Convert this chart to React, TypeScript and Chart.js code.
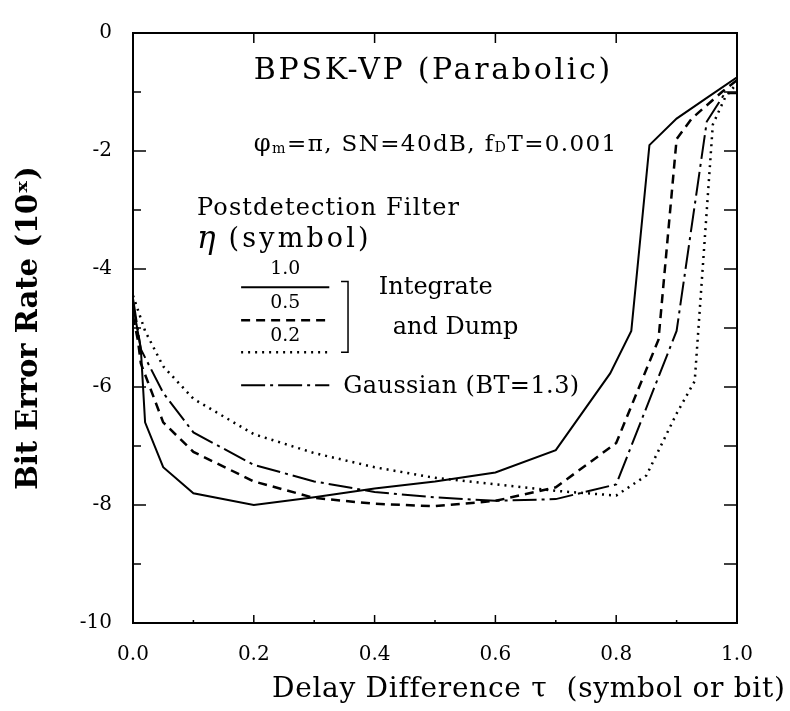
import React, { useEffect, useRef } from 'react';
import { Chart, registerables } from 'chart.js';

Chart.register(...registerables);

// Delay difference tau (symbol) and log10(BER) for each curve
const tauIdf10 = [0, 0.013, 0.02, 0.05, 0.1, 0.2, 0.3, 0.4, 0.5, 0.6, 0.7, 0.79, 0.825, 0.855, 0.9, 0.95, 1.0];
const berIdf10 = [-4.6, -5.36, -6.6, -7.36, -7.8, -8.0, -7.87, -7.72, -7.6, -7.45, -7.07, -5.77, -5.05, -1.9, -1.45, -1.1, -0.75];

const tauIdf05 = [0, 0.008, 0.013, 0.05, 0.1, 0.2, 0.3, 0.4, 0.5, 0.6, 0.7, 0.8, 0.87, 0.9, 0.925, 0.975, 1.0];
const berIdf05 = [-4.8, -5.2, -5.6, -6.6, -7.1, -7.6, -7.88, -7.98, -8.02, -7.93, -7.7, -6.95, -5.2, -1.8, -1.45, -1.0, -0.8];

const tauIdf02 = [0, 0.02, 0.05, 0.1, 0.2, 0.3, 0.4, 0.5, 0.6, 0.7, 0.8, 0.85, 0.9, 0.93, 0.96, 0.98, 1.0];
const berIdf02 = [-4.45, -5.05, -5.65, -6.2, -6.8, -7.12, -7.36, -7.54, -7.65, -7.76, -7.84, -7.5, -6.45, -5.9, -1.55, -1.1, -0.85];

const tauGauss = [0, 0.013, 0.05, 0.1, 0.2, 0.3, 0.4, 0.5, 0.6, 0.7, 0.8, 0.9, 0.95, 0.98, 1.0];
const berGauss = [-4.5, -5.36, -6.1, -6.77, -7.32, -7.6, -7.78, -7.87, -7.93, -7.9, -7.65, -5.05, -1.5, -1.02, -1.02];

const xTickValues = [0, 0.2, 0.4, 0.6, 0.8, 1.0];
const xMinorValues = [0.1, 0.3, 0.5, 0.7, 0.9];
const yTickValues = [0, -2, -4, -6, -8, -10];
const yMinorValues = [-1, -3, -5, -7, -9];

const titleText = 'BPSK-VP (Parabolic)';
const legendHeader = 'Postdetection Filter';
const legendUnit = '(symbol)';
const legendEtas = ['1.0', '0.5', '0.2'];
const legendGroup = ['Integrate', 'and Dump'];
const legendGauss = 'Gaussian (BT=1.3)';
const xTitle = 'Delay Difference \u03c4  (symbol or bit)';
const yTitle = 'Bit Error Rate (10\u02e3)';

const FONT = '"DejaVu Serif", serif';

const pts = (xs: number[], ys: number[]) => xs.map((x, i) => ({ x, y: ys[i] }));

// draw text with the font size chosen so that it spans the given width
function drawSized(ctx: CanvasRenderingContext2D, s: string, x: number, y: number, width: number, style = '', maxSize = 40) {
  ctx.font = `${style} 100px ${FONT}`;
  const w100 = ctx.measureText(s).width;
  const size = Math.min(maxSize, (100 * width) / w100);
  ctx.font = `${style} ${size}px ${FONT}`;
  const w = ctx.measureText(s).width;
  const sp = s.length > 1 ? (width - w) / (s.length - 1) : 0;
  (ctx as any).letterSpacing = `${Math.max(0, sp)}px`;
  ctx.textAlign = 'left';
  ctx.textBaseline = 'middle';
  ctx.fillText(s, x, y);
  (ctx as any).letterSpacing = '0px';
  return size;
}

function drawText(ctx: CanvasRenderingContext2D, s: string, x: number, y: number, size: number, align: CanvasTextAlign = 'left', style = '') {
  ctx.font = `${style} ${size}px ${FONT}`;
  (ctx as any).letterSpacing = '0px';
  ctx.textAlign = align;
  ctx.textBaseline = 'middle';
  ctx.fillText(s, x, y);
  return ctx.measureText(s).width;
}

const decorPlugin = {
  id: 'decor',
  afterDatasetsDraw(chart: any) {
    const ctx: CanvasRenderingContext2D = chart.ctx;
    const xs = chart.scales.x;
    const ys = chart.scales.y;
    const X = (v: number) => xs.getPixelForValue(v);
    const Y = (v: number) => ys.getPixelForValue(v);
    const ca = chart.chartArea;
    ctx.save();
    ctx.fillStyle = '#000';
    ctx.strokeStyle = '#000';
    // frame
    ctx.lineWidth = 2;
    ctx.setLineDash([]);
    ctx.strokeRect(ca.left, ca.top, ca.right - ca.left, ca.bottom - ca.top);
    // ticks (inward)
    ctx.lineWidth = 1.5;
    const seg = (x1: number, y1: number, x2: number, y2: number) => {
      ctx.beginPath();
      ctx.moveTo(x1, y1);
      ctx.lineTo(x2, y2);
      ctx.stroke();
    };
    yTickValues.forEach((v) => {
      seg(ca.left, Y(v), ca.left + 13, Y(v));
      seg(ca.right, Y(v), ca.right - 13, Y(v));
    });
    yMinorValues.forEach((v) => {
      seg(ca.left, Y(v), ca.left + 8, Y(v));
      seg(ca.right, Y(v), ca.right - 13, Y(v));
    });
    xTickValues.forEach((v) => {
      seg(X(v), ca.bottom, X(v), ca.bottom - 8);
      seg(X(v), ca.top, X(v), ca.top + 10);
    });
    xMinorValues.forEach((v) => {
      seg(X(v), ca.bottom, X(v), ca.bottom - 3);
    });

    // title
    drawSized(ctx, titleText, X(0.2), Y(-0.65), X(0.79) - X(0.2), '', 30);

    // subtitle with subscripts
    const parts: [string, number, number][] = [
      ['\u03c6', 1.05, 0],
      ['m', 0.62, 0.2],
      ['=\u03c0, SN=40dB, f', 1, 0],
      ['D', 0.62, 0.15],
      ['T=0.001', 1, 0],
    ];
    let base = 0;
    parts.forEach(([s, rel]) => {
      ctx.font = `${100 * rel}px ${FONT}`;
      base += ctx.measureText(s).width;
    });
    const target = X(0.8) - X(0.2);
    const fs = Math.min(23, (100 * target) / base);
    let used = 0;
    parts.forEach(([s, rel]) => {
      ctx.font = `${fs * rel}px ${FONT}`;
      used += ctx.measureText(s).width;
    });
    const nch = parts.reduce((a, [s]) => a + s.length, 0);
    const sp = Math.max(0, (target - used) / (nch - 1));
    let sx = X(0.2);
    parts.forEach(([s, rel, dy]) => {
      ctx.font = `${fs * rel}px ${FONT}`;
      (ctx as any).letterSpacing = `${sp}px`;
      ctx.textAlign = 'left';
      ctx.textBaseline = 'middle';
      ctx.fillText(s, sx, Y(-1.9) + dy * fs);
      (ctx as any).letterSpacing = '0px';
      sx += ctx.measureText(s).width + sp * s.length;
    });

    drawSized(ctx, legendHeader, X(0.106), Y(-2.98), 262, '', 24);
    const ew = drawText(ctx, '\u03b7', X(0.106), Y(-3.5), 31, 'left', 'italic');
    const ux = X(0.106) + ew + 13;
    drawSized(ctx, legendUnit, ux, Y(-3.5), X(0.39) - ux, '', 27);

    // legend lines
    const lx1 = X(0.179);
    const lx2 = X(0.325);
    const legendLine = (yv: number, dash: number[], w: number) => {
      ctx.lineWidth = w;
      ctx.setLineDash(dash);
      seg(lx1, Y(yv), lx2, Y(yv));
      ctx.setLineDash([]);
    };
    const lc = (lx1 + lx2) / 2;
    drawSized(ctx, legendEtas[0], lc - 15, Y(-4.01), 30, '', 19);
    legendLine(-4.31, [], 2);
    drawSized(ctx, legendEtas[1], lc - 15, Y(-4.57), 30, '', 19);
    legendLine(-4.87, [9, 6], 2.5);
    drawSized(ctx, legendEtas[2], lc - 15, Y(-5.13), 30, '', 19);
    legendLine(-5.41, [2, 5], 2.5);
    legendLine(-5.97, [24, 5, 3, 5], 2);

    // bracket
    ctx.lineWidth = 1.5;
    const bx = X(0.356);
    ctx.beginPath();
    ctx.moveTo(bx - 7, Y(-4.21));
    ctx.lineTo(bx, Y(-4.21));
    ctx.lineTo(bx, Y(-5.41));
    ctx.lineTo(bx - 7, Y(-5.41));
    ctx.stroke();

    drawText(ctx, legendGroup[0], X(0.407), Y(-4.32), 24);
    drawText(ctx, legendGroup[1], X(0.43), Y(-5.0), 24);
    drawSized(ctx, legendGauss, X(0.348), Y(-5.99), 236, '', 24);

    // x-axis title
    drawSized(ctx, xTitle, 272, 690, 512, '', 28);
    ctx.restore();
  },
};

export default function App() {
  const ref = useRef<HTMLCanvasElement | null>(null);
  useEffect(() => {
    if (!ref.current) return;
    const chart = new Chart(ref.current, {
      type: 'line',
      data: {
        datasets: [
          { label: '1.0', data: pts(tauIdf10, berIdf10), borderColor: '#000', borderWidth: 2, pointRadius: 0, fill: false, tension: 0 },
          { label: '0.5', data: pts(tauIdf05, berIdf05), borderColor: '#000', borderWidth: 2.5, borderDash: [9, 6], pointRadius: 0, fill: false, tension: 0 },
          { label: '0.2', data: pts(tauIdf02, berIdf02), borderColor: '#000', borderWidth: 2.5, borderDash: [2, 5], pointRadius: 0, fill: false, tension: 0 },
          { label: 'Gaussian', data: pts(tauGauss, berGauss), borderColor: '#000', borderWidth: 2, borderDash: [24, 5, 3, 5], pointRadius: 0, fill: false, tension: 0 },
        ],
      },
      options: {
        responsive: false,
        animation: false,
        layout: { padding: { left: 0, top: 17, right: 53, bottom: 0 } },
        plugins: { legend: { display: false }, tooltip: { enabled: false } },
        scales: {
          x: {
            type: 'linear',
            min: 0,
            max: 1,
            afterFit: (s: any) => { s.height = 88; },
            afterBuildTicks: (s: any) => { s.ticks = xTickValues.map((v) => ({ value: v })); },
            grid: { display: false, drawTicks: false },
            border: { display: false },
            ticks: { padding: 20, color: '#000', font: { family: FONT, size: 20 }, maxRotation: 0, autoSkip: false, callback: (v: any) => Number(v).toFixed(1) },
          },
          y: {
            type: 'linear',
            min: -10,
            max: 0,
            afterFit: (s: any) => { s.width = 133; },
            afterBuildTicks: (s: any) => { s.ticks = yTickValues.map((v) => ({ value: v })); },
            grid: { display: false, drawTicks: false },
            border: { display: false },
            ticks: { padding: 21, color: '#000', font: { family: FONT, size: 20 }, autoSkip: false, callback: (v: any) => String(v) },
            title: { display: true, text: yTitle, color: '#000', font: { family: FONT, size: 29, weight: 'bold' }, padding: { top: 12, bottom: 0 } },
          },
        },
      },
      plugins: [decorPlugin],
    });
    return () => chart.destroy();
  }, []);
  return (
    <div style={{ position: 'absolute', left: 0, top: 0, width: 790, height: 711, background: '#fff' }}>
      <canvas ref={ref} width={790} height={711} style={{ width: 790, height: 711, display: 'block' }} />
    </div>
  );
}
